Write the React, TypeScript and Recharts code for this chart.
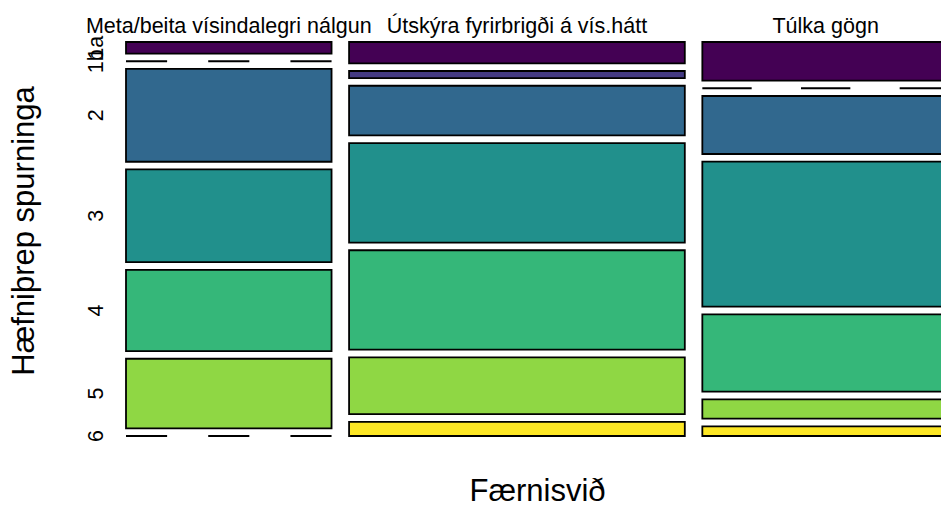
import { ComposedChart, XAxis, YAxis, ReferenceArea, ReferenceLine } from 'recharts';

const CATEGORIES = ['Meta/beita vísindalegri nálgun', 'Útskýra fyrirbrigði á vís.hátt', 'Túlka gögn'];
const LEVELS = ['1a', '1b', '2', '3', '4', '5', '6'];
const META = [1, 0, 8, 8, 7, 6, 0];
const UTSKYRA = [3, 1, 7, 14, 14, 8, 2];
const TULKA = [4, 0, 6, 15, 8, 2, 1];
const COLORS = ['#440154', '#443A83', '#31688E', '#21908C', '#35B779', '#8FD744', '#FDE725'];

const COUNTS = [META, UTSKYRA, TULKA];
const GAP_X = 0.0213;
const GAP_Y = 0.0195;
const FONT = '"Liberation Sans", Arial, sans-serif';

// mosaic layout in data units (x: 0..1 left->right, y: 0..1 top->bottom)
const colTotals = COUNTS.map((c) => c.reduce((a, b) => a + b, 0));
const grand = colTotals.reduce((a, b) => a + b, 0);
const usableX = 1 - GAP_X * (CATEGORIES.length - 1);
const usableY = 1 - GAP_Y * (LEVELS.length - 1);

type Cell = { col: number; lvl: number; x1: number; x2: number; y1: number; y2: number; n: number };
const cells: Cell[] = [];
const colCenters: number[] = [];
let xs = 0;
COUNTS.forEach((counts, ci) => {
  const w = (colTotals[ci] / grand) * usableX;
  colCenters.push(xs + w / 2);
  let ys = 0;
  counts.forEach((n, li) => {
    const h = (n / colTotals[ci]) * usableY;
    cells.push({ col: ci, lvl: li, x1: xs, x2: xs + w, y1: ys, y2: ys + h, n });
    ys += h + GAP_Y;
  });
  xs += w + GAP_X;
});
const levelCenters = cells.filter((c) => c.col === 0).map((c) => (c.y1 + c.y2) / 2);
const bounds = [{ x: 0, y: 0 }, { x: 1, y: 1 }];

const TopTick = (props: any) => (
  <text x={props.x} y={props.y - 1} textAnchor="middle" fontSize={21.5} fontFamily={FONT} fill="#000">
    {CATEGORIES[props.index]}
  </text>
);

const LeftTick = (props: any) => {
  const x = props.x - 15;
  return (
    <text x={x} y={props.y} transform={`rotate(-90, ${x}, ${props.y})`} textAnchor="middle"
      fontSize={21.5} fontFamily={FONT} fill="#000">
      {LEVELS[props.index]}
    </text>
  );
};

const DashedZero = (p: any) => (
  <line x1={p.x1} y1={p.y1} x2={p.x2} y2={p.y2} stroke="#000" strokeWidth={2}
    strokeDasharray={`${(p.x2 - p.x1) / 5}`} />
);

export default function App() {
  return (
    <div style={{ position: 'absolute', left: 0, top: 0, width: 941, height: 506, overflow: 'hidden', background: '#fff' }}>
      <ComposedChart width={960} height={506} data={bounds} margin={{ top: 0, right: 11, bottom: 0, left: 0 }}>
        <XAxis xAxisId="top" dataKey="x" orientation="top" type="number" domain={[0, 1]} allowDataOverflow
          ticks={colCenters} interval={0} axisLine={false} tickLine={false} height={42} tick={<TopTick />} />
        <XAxis xAxisId="bottom" dataKey="x" orientation="bottom" type="number" domain={[0, 1]} allowDataOverflow
          height={70} tick={false} axisLine={false} tickLine={false}
          label={{
            content: (p: any) => (
              <text x={p.viewBox.x + p.viewBox.width / 2} y={p.viewBox.y + 65} textAnchor="middle"
                fontSize={31} fontFamily={FONT} fill="#000">Færnisvið</text>
            ),
          }} />
        <YAxis dataKey="y" type="number" domain={[0, 1]} allowDataOverflow reversed width={126}
          ticks={levelCenters} interval={0} axisLine={false} tickLine={false} tick={<LeftTick />}
          label={{
            content: (p: any) => {
              const x = p.viewBox.x + 34;
              const y = p.viewBox.y + p.viewBox.height / 2 - 8;
              return (
                <text x={x} y={y} transform={`rotate(-90, ${x}, ${y})`} textAnchor="middle"
                  fontSize={31} fontFamily={FONT} fill="#000">Hæfniþrep spurninga</text>
              );
            },
          }} />
        {cells.filter((c) => c.n > 0).map((c) => (
          <ReferenceArea key={`a${c.col}-${c.lvl}`} xAxisId="top" x1={c.x1} x2={c.x2} y1={c.y1} y2={c.y2}
            fill={COLORS[c.lvl]} fillOpacity={1} stroke="#000" strokeWidth={1.8} ifOverflow="visible" />
        ))}
        {cells.filter((c) => c.n === 0).map((c) => (
          <ReferenceLine key={`l${c.col}-${c.lvl}`} xAxisId="top"
            segment={[{ x: c.x1, y: c.y1 }, { x: c.x2, y: c.y1 }]} shape={DashedZero} ifOverflow="visible" />
        ))}
      </ComposedChart>
    </div>
  );
}
